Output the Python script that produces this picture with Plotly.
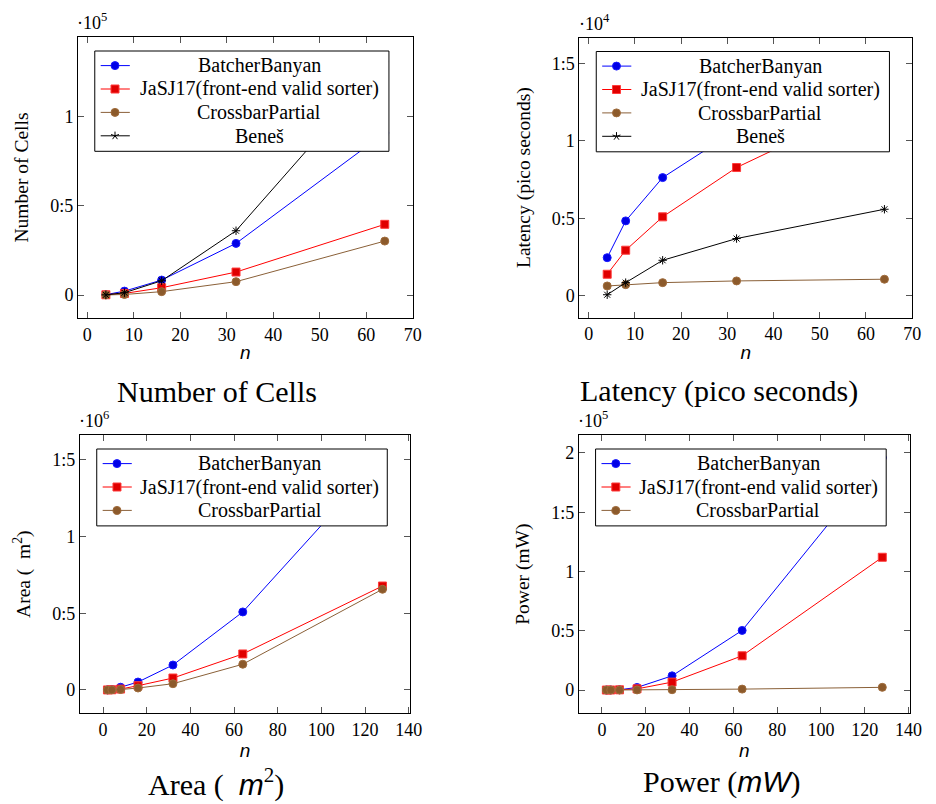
import math
import plotly.graph_objects as go

# ---- data -------------------------------------------------------------
n_small = [4, 8, 16, 32, 64]
n_large = [2, 4, 8, 16, 32, 64, 128]

cells_batcher = [200, 2200, 8400, 29000, 91000]
cells_jasj = [150, 900, 4100, 12900, 39700]
cells_crossbar = [50, 300, 1900, 7500, 30300]
cells_benes = [100, 1300, 8000, 36100, 131000]

lat_batcher = [2470, 4840, 7630, 10700, 15160]
lat_jasj = [1400, 2950, 5100, 8280, 12800]
lat_crossbar = [645, 730, 860, 970, 1080]
lat_benes = [80, 860, 2300, 3700, 5590]

area_batcher = [800, 3000, 18000, 52000, 163000, 509000, 1513000]
area_jasj = [500, 1500, 6000, 28000, 78000, 235000, 678000]
area_crossbar = [200, 700, 3000, 13000, 41000, 168000, 657000]

pow_batcher = [20, 80, 250, 2200, 12000, 50300, 196000]
pow_jasj = [15, 60, 200, 1000, 6700, 28900, 112000]
pow_crossbar = [5, 15, 40, 120, 280, 800, 2300]

x_ticks_small = [0, 10, 20, 30, 40, 50, 60, 70]
x_ticks_large = [0, 20, 40, 60, 80, 100, 120, 140]

# ---- page geometry ----------------------------------------------------
W, H = 936, 804
SERIF = "Liberation Serif, Times New Roman, DejaVu Serif, serif"
SANS = "Liberation Sans, Arial, DejaVu Sans, sans-serif"


def fx(px):
    return px / W


def fy(py):
    return 1 - py / H


# frame of each panel in page pixels: left, top, right, bottom
frames = [
    (79, 37, 418, 318),
    (587, 37.5, 924, 317.7),
    (81, 435, 415.3, 713.3),
    (586.3, 435, 921.7, 713.3),
]

styles = {
    "BatcherBanyan": dict(line="#0000ff", fill="#0000e6", edge="#1a1aff", symbol="circle"),
    "JaSJ17(front-end valid sorter)": dict(line="#ff0000", fill="#e00000", edge="#ff3b3b", symbol="square"),
    "CrossbarPartial": dict(line="#8a6038", fill="#8c5a2b", edge="#a06c3c", symbol="circle"),
    "Beneš": dict(line="#000000", fill="#000000", edge="#000000", symbol="asterisk-open"),
}

fig = go.Figure()

panel_series = [
    (n_small, [("BatcherBanyan", cells_batcher), ("JaSJ17(front-end valid sorter)", cells_jasj),
               ("CrossbarPartial", cells_crossbar), ("Beneš", cells_benes)]),
    (n_small, [("BatcherBanyan", lat_batcher), ("JaSJ17(front-end valid sorter)", lat_jasj),
               ("CrossbarPartial", lat_crossbar), ("Beneš", lat_benes)]),
    (n_large, [("BatcherBanyan", area_batcher), ("JaSJ17(front-end valid sorter)", area_jasj),
               ("CrossbarPartial", area_crossbar)]),
    (n_large, [("BatcherBanyan", pow_batcher), ("JaSJ17(front-end valid sorter)", pow_jasj),
               ("CrossbarPartial", pow_crossbar)]),
]

for i, (xs, series) in enumerate(panel_series):
    suffix = "" if i == 0 else str(i + 1)
    for name, ys in series:
        st = styles[name]
        if st["symbol"] == "asterisk-open":
            marker = dict(symbol="asterisk-open", size=7, line=dict(color="black", width=1))
        else:
            marker = dict(symbol=st["symbol"], size=8,
                          color=st["fill"], line=dict(color=st["edge"], width=1))
        fig.add_trace(go.Scatter(
            x=xs, y=ys, name=name, mode="lines+markers",
            line=dict(color=st["line"], width=1), marker=marker,
            xaxis="x" + suffix, yaxis="y" + suffix, showlegend=False,
        ))

# ---- axes -------------------------------------------------------------
axis_common = dict(
    showline=True, linecolor="black", linewidth=1, mirror="ticks",
    ticks="inside", ticklen=6, tickwidth=1, tickcolor="#555555",
    showgrid=False, zeroline=False,
    tickfont=dict(family=SERIF, size=18, color="black"),
)

x_ranges = [[-2, 70], [-2, 70], [-10.6, 140.6], [-10.6, 140.6]]
x_tickvals = [x_ticks_small, x_ticks_small, x_ticks_large, x_ticks_large]
y_ranges = [[-12900, 144900], [-1400, 16660], [-152000, 1663000], [-19600, 215100]]
y_scale = [1e5, 1e4, 1e6, 1e5]
y_tick_units = [[0, 0.5, 1], [0, 0.5, 1, 1.5], [0, 0.5, 1, 1.5], [0, 0.5, 1, 1.5, 2]]
y_tick_text = {0: "0", 0.5: "0:5", 1: "1", 1.5: "1:5", 2: "2"}
y_titles = ["Number of Cells", "Latency (pico seconds)", "Area (  m<sup>2</sup>)", "Power (mW)"]

for i, (l, t, r, b) in enumerate(frames):
    suffix = "" if i == 0 else str(i + 1)
    fig.layout["xaxis" + suffix] = dict(
        axis_common, domain=[fx(l), fx(r)], range=x_ranges[i],
        tickvals=x_tickvals[i], anchor="y" + suffix,
        title=dict(text="<i>n</i>", font=dict(family=SANS, size=19, color="black"), standoff=2),
    )
    fig.layout["yaxis" + suffix] = dict(
        axis_common, domain=[fy(b), fy(t)], range=y_ranges[i],
        tickvals=[u * y_scale[i] for u in y_tick_units[i]],
        ticktext=[y_tick_text[u] for u in y_tick_units[i]],
        anchor="x" + suffix,
        title=dict(text=y_titles[i], font=dict(family=SERIF, size=19.5, color="black"), standoff=16),
    )

# ---- exponent labels and captions ---------------------------------------
exponents = [5, 4, 6, 5]
annotations = []
for i, (l, t, r, b) in enumerate(frames):
    annotations.append(dict(
        text="·10<sup>%d</sup>" % exponents[i], x=fx(l - 3), y=fy(t - 2),
        xref="paper", yref="paper", xanchor="left", yanchor="bottom",
        showarrow=False, font=dict(family=SERIF, size=18, color="black"),
    ))

math_span = '<i><span style="font-family:Liberation Sans, Arial, sans-serif">%s</span></i>'
captions = [
    ("Number of Cells", 220, 391),
    ("Latency (pico seconds)", 728, 391),
    ("Area (  " + math_span % "m" + "<sup>2</sup>)", 219, 782),
    ("Power (" + math_span % "mW" + ")", 731, 782),
]
for text, cx, cy in captions:
    annotations.append(dict(
        text=text, x=fx(cx), y=fy(cy), xref="paper", yref="paper",
        xanchor="center", yanchor="middle", showarrow=False,
        font=dict(family=SERIF, size=30, color="black"),
    ))

# ---- legend boxes -------------------------------------------------------
shapes = []
ROW_GAP = 23.4


def star_path(r=4.2):
    parts = []
    for k in range(5):
        a = math.radians(90 + 72 * k)
        parts.append("M0,0 L%.2f,%.2f" % (r * math.cos(a), r * math.sin(a)))
    return " ".join(parts)


for i, (xs, series) in enumerate(panel_series):
    l, t, r, b = frames[i]
    box_l, box_t = l + 17, t + 14
    box_r = r - 24 if i in (0, 3) else r - 23
    rows = len(series)
    box_b = box_t + 14.6 + ROW_GAP * (rows - 1) + 15.5
    shapes.append(dict(
        type="rect", xref="paper", yref="paper", layer="above",
        x0=fx(box_l), x1=fx(box_r), y0=fy(box_b), y1=fy(box_t),
        fillcolor="white", line=dict(color="black", width=1),
    ))
    for k, (name, _) in enumerate(series):
        st = styles[name]
        ry = box_t + 14.6 + ROW_GAP * k
        s_l, s_r, s_m = box_l + 6, box_l + 35.5, box_l + 20.5
        shapes.append(dict(
            type="line", xref="paper", yref="paper", layer="above",
            x0=fx(s_l), x1=fx(s_r), y0=fy(ry), y1=fy(ry),
            line=dict(color=st["line"], width=1),
        ))
        marker_common = dict(
            xref="paper", yref="paper", layer="above",
            xsizemode="pixel", ysizemode="pixel", xanchor=fx(s_m), yanchor=fy(ry),
        )
        if st["symbol"] == "circle":
            shapes.append(dict(marker_common, type="circle", x0=-4, x1=4, y0=-4, y1=4,
                               fillcolor=st["fill"], line=dict(color=st["edge"], width=1)))
        elif st["symbol"] == "square":
            shapes.append(dict(marker_common, type="rect", x0=-4, x1=4, y0=-4, y1=4,
                               fillcolor=st["fill"], line=dict(color=st["edge"], width=1)))
        else:
            shapes.append(dict(marker_common, type="path", path=star_path(),
                               line=dict(color="black", width=1)))
        annotations.append(dict(
            text=name, x=fx((s_r + box_r) / 2), y=fy(ry), xref="paper", yref="paper",
            xanchor="center", yanchor="middle", showarrow=False,
            font=dict(family=SERIF, size=20, color="black"),
        ))

fig.update_layout(
    width=W, height=H, margin=dict(l=0, r=0, t=0, b=0),
    paper_bgcolor="white", plot_bgcolor="white",
    showlegend=False, annotations=annotations, shapes=shapes,
    font=dict(family=SERIF, color="black"),
)

fig.write_html("out.html")
